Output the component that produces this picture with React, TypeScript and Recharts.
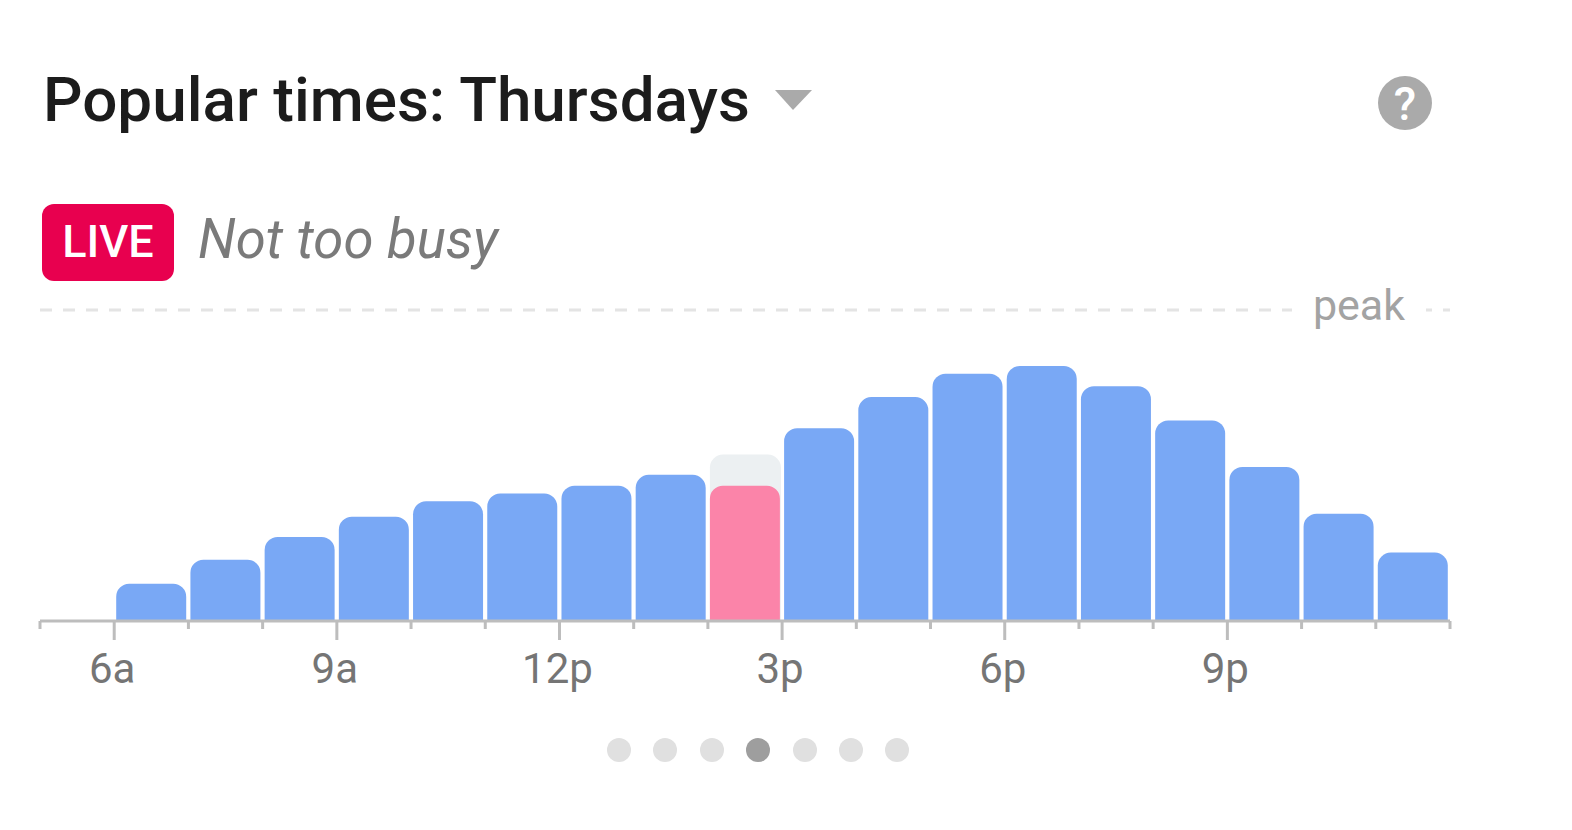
import React from "react";
import { BarChart, Bar, XAxis, YAxis, Cell, ReferenceLine } from "recharts";

const hours = [5.5, 6.5, 7.5, 8.5, 9.5, 10.5, 11.5, 12.5, 13.5, 14.5, 15.5, 16.5, 17.5, 18.5, 19.5, 20.5, 21.5, 22.5, 23.5];
const current = [0, 12, 19.7, 27, 33.5, 38.5, 41, 43.5, 47, 43.5, 62, 72, 79.5, 82, 75.5, 64.5, 49.5, 34.5, 22];
const usual = [0, 0, 0, 0, 0, 0, 0, 0, 0, 53.5, 0, 0, 0, 0, 0, 0, 0, 0, 0];
const tickHours = [5, 6, 7, 8, 9, 10, 11, 12, 13, 14, 15, 16, 17, 18, 19, 20, 21, 22, 23, 24];
const tickLabels: Record<number, string> = { 6: "6a", 9: "9a", 12: "12p", 15: "3p", 18: "6p", 21: "9p" };
const liveHour = 14.5;
const dots = [0, 1, 2, 3, 4, 5, 6];
const activeDot = 3;

const data = hours.map((h, i) => ({ h, current: current[i], usual: usual[i] }));
const FONT = "Roboto, sans-serif";

function Tick(props: any) {
  const { x, payload } = props;
  const label = tickLabels[payload.value];
  return (
    <g>
      <line x1={x} x2={x} y1={621} y2={label ? 640 : 629} stroke="#bdbdbd" strokeWidth={3} />
      {label ? (
        <text x={x - 2} y={683} textAnchor="middle" fontFamily={FONT} fontSize={42} fill="#757575">{label}</text>
      ) : null}
    </g>
  );
}

const abs = (s: React.CSSProperties): React.CSSProperties => ({ position: "absolute", ...s });

export default function App() {
  return (
    <div style={abs({ left: 0, top: 0, width: 1572, height: 830, background: "#fff", overflow: "hidden", fontFamily: FONT })}>
      <div style={abs({ left: 43, top: 63, fontSize: 62, fontWeight: 500, color: "#1c1c1c", whiteSpace: "nowrap", lineHeight: "74px" })}>Popular times: Thursdays</div>
      <svg style={abs({ left: 770, top: 84 })} width={44} height={28}><polygon points="5,6 42,6 23,26" fill="#aaaaaa" /></svg>
      <svg style={abs({ left: 1372, top: 70 })} width={66} height={66}>
        <circle cx={33} cy={33} r={27} fill="#aaaaaa" />
        <text x={33} y={50} textAnchor="middle" fontFamily={FONT} fontSize={46} fontWeight={500} fill="#fff">?</text>
      </svg>
      <div style={abs({ left: 42, top: 204, width: 132, height: 77, borderRadius: 12, background: "#e8004f", color: "#fff", fontSize: 45, fontWeight: 500, textAlign: "center", lineHeight: "75px" })}>LIVE</div>
      <div style={abs({ left: 198, top: 206, fontSize: 54.5, fontStyle: "italic", color: "#7a7a7a", whiteSpace: "nowrap", lineHeight: "66px" })}>Not too busy</div>

      <div style={abs({ left: 0, top: 0 })}>
        <BarChart width={1572} height={830} data={data} margin={{ top: 310, left: 40, right: 122, bottom: 149 }} barCategoryGap={0}>
          <YAxis hide domain={[0, 100]} type="number" />
          <XAxis xAxisId="back" hide type="number" dataKey="h" domain={[5, 24]} />
          <XAxis
            type="number"
            dataKey="h"
            domain={[5, 24]}
            ticks={tickHours}
            interval={0}
            height={60}
            tick={<Tick />}
            tickLine={false}
            axisLine={{ stroke: "#bdbdbd", strokeWidth: 3 }}
          />
          <ReferenceLine y={100} stroke="#e4e4e4" strokeWidth={3} strokeDasharray="12 11" />
          <Bar xAxisId="back" dataKey="usual" barSize={71} fill="#ecf0f2" radius={[13, 13, 0, 0]} isAnimationActive={false} />
          <Bar dataKey="current" barSize={70} radius={[13, 13, 0, 0]} isAnimationActive={false}>
            {data.map((d) => (
              <Cell key={d.h} fill={d.h === liveHour ? "#fb84a9" : "#79a8f5"} />
            ))}
          </Bar>
        </BarChart>
      </div>

      <div style={abs({ left: 1292, top: 278, width: 134, height: 60, background: "#fff", color: "#a3a3a3", fontSize: 43, textAlign: "center", lineHeight: "54px" })}>peak</div>

      {dots.map((d) => (
        <div key={d} style={abs({ left: 607 + d * 46.4, top: 738, width: 24, height: 24, borderRadius: "50%", background: d === activeDot ? "#9e9e9e" : "#e0e0e0" })} />
      ))}
    </div>
  );
}
